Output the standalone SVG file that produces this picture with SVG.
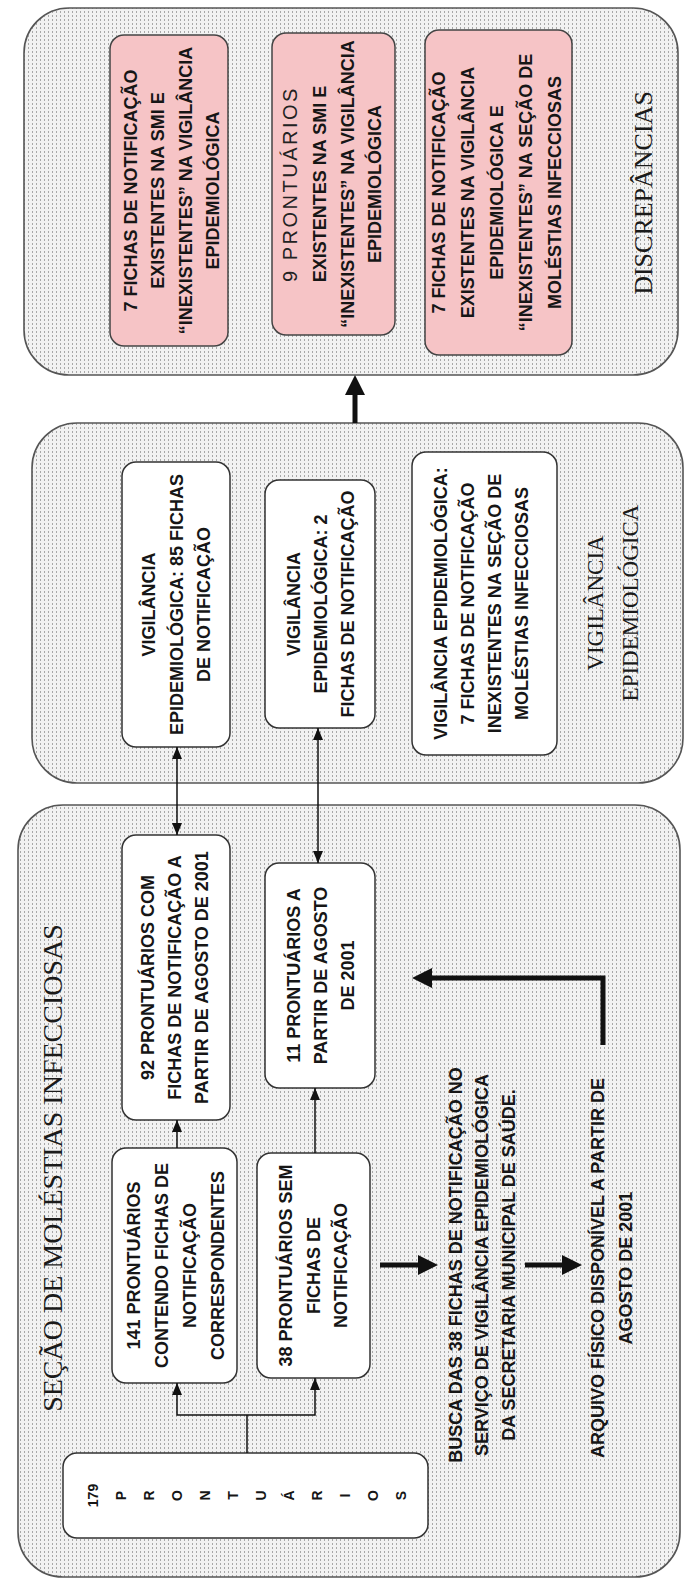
<svg xmlns="http://www.w3.org/2000/svg" width="691" height="1581" viewBox="0 0 691 1581">
<defs>
<pattern id="dots" width="4" height="4" patternUnits="userSpaceOnUse">
<rect width="4" height="4" fill="#f2f2f2"/>
<rect x="0" y="0" width="2" height="1" fill="#a8a8a8"/>
</pattern>
<marker id="ah" viewBox="0 0 12 10" refX="12" refY="5" markerWidth="12" markerHeight="10" markerUnits="userSpaceOnUse" orient="auto-start-reverse">
<path d="M0,0 L12,5 L0,10 z" fill="#111"/>
</marker>
<marker id="ahb" viewBox="0 0 20 20" refX="6" refY="10" markerWidth="20" markerHeight="20" markerUnits="userSpaceOnUse" orient="auto">
<path d="M0,0 L20,10 L0,20 z" fill="#111"/>
</marker>
<style>
.c{fill:url(#dots);stroke:#555;stroke-width:1.6}
.b{fill:#fff;stroke:#333;stroke-width:1.5}
.r{fill:#f6c4c6;stroke:#444;stroke-width:1.5}
.t{font-family:"Liberation Sans",Arial,sans-serif;font-weight:bold;font-size:18px;fill:#161616;text-anchor:middle}
.t14{font-size:14px}
.lt{font-family:"Liberation Sans",Arial,sans-serif;font-weight:normal;font-size:20px;letter-spacing:2.5px;fill:#222;text-anchor:middle}
.lbl{font-family:"Liberation Serif","Times New Roman",serif;fill:#1a1a1a;text-anchor:middle}
.ln{fill:none;stroke:#111;stroke-width:1.5}
.th{fill:none;stroke:#111;stroke-width:5}
</style>
</defs>
<rect width="691" height="1581" fill="#fff"/>
<g transform="translate(0 1581) rotate(-90)">
<g id="sec-container">
<rect class="c" x="4" y="18" width="772" height="662" rx="45"/>
<text class="lbl" x="413" y="62" font-size="28">SEÇÃO DE MOLÉSTIAS INFECCIOSAS</text>
</g>
<g id="vig-container">
<rect class="c" x="798" y="32" width="360" height="651" rx="45"/>
<text class="lbl" x="978" y="603" font-size="23">VIGILÂNCIA</text>
<text class="lbl" x="978" y="638" font-size="23">EPIDEMIOLÓGICA</text>
</g>
<g id="disc-container">
<rect class="c" x="1206" y="24" width="367" height="654" rx="45"/>
<text class="lbl" x="1388" y="652" font-size="26">DISCREPÂNCIAS</text>
</g>

<g id="n179">
<rect class="b" x="43" y="63" width="85" height="365" rx="14"/>
<text class="t t14" x="85.5" y="98">179</text>
<text class="t t14" x="85.5" y="126">P</text>
<text class="t t14" x="85.5" y="154">R</text>
<text class="t t14" x="85.5" y="182">O</text>
<text class="t t14" x="85.5" y="210">N</text>
<text class="t t14" x="85.5" y="238">T</text>
<text class="t t14" x="85.5" y="266">U</text>
<text class="t t14" x="85.5" y="294">Á</text>
<text class="t t14" x="85.5" y="322">R</text>
<text class="t t14" x="85.5" y="350">I</text>
<text class="t t14" x="85.5" y="378">O</text>
<text class="t t14" x="85.5" y="406">S</text>
</g>
<g id="n141">
<rect class="b" x="198" y="112" width="235" height="125" rx="14"/>
<text class="t" x="315.5" y="140">141 PRONTUÁRIOS</text>
<text class="t" x="315.5" y="168">CONTENDO FICHAS DE</text>
<text class="t" x="315.5" y="196">NOTIFICAÇÃO</text>
<text class="t" x="315.5" y="224">CORRESPONDENTES</text>
</g>
<g id="n38">
<rect class="b" x="203" y="257" width="225" height="113" rx="14"/>
<text class="t" x="315.5" y="292">38 PRONTUÁRIOS SEM</text>
<text class="t" x="315.5" y="320">FICHAS DE</text>
<text class="t" x="315.5" y="347">NOTIFICAÇÃO</text>
</g>
<g id="n92">
<rect class="b" x="461" y="122" width="285" height="108" rx="14"/>
<text class="t" x="603.5" y="154">92 PRONTUÁRIOS COM</text>
<text class="t" x="603.5" y="181">FICHAS DE NOTIFICAÇÃO A</text>
<text class="t" x="603.5" y="208">PARTIR DE AGOSTO DE 2001</text>
</g>
<g id="n11">
<rect class="b" x="493" y="265" width="225" height="110" rx="14"/>
<text class="t" x="605.5" y="300">11 PRONTUÁRIOS A</text>
<text class="t" x="605.5" y="327">PARTIR DE AGOSTO</text>
<text class="t" x="605.5" y="354">DE 2001</text>
</g>
<g id="busca">
<text class="t" x="316" y="462">BUSCA DAS 38 FICHAS DE NOTIFICAÇÃO NO</text>
<text class="t" x="316" y="488">SERVIÇO DE VIGILÂNCIA EPIDEMIOLÓGICA</text>
<text class="t" x="316" y="515">DA SECRETARIA MUNICIPAL DE SAÚDE.</text>
</g>
<g id="arquivo">
<text class="t" x="313" y="604">ARQUIVO FÍSICO DISPONÍVEL A PARTIR DE</text>
<text class="t" x="313" y="632">AGOSTO DE 2001</text>
</g>

<g id="vig1">
<rect class="b" x="834" y="122" width="285" height="108" rx="14"/>
<text class="t" x="976.5" y="155">VIGILÂNCIA</text>
<text class="t" x="976.5" y="183">EPIDEMIOLÓGICA: 85 FICHAS</text>
<text class="t" x="976.5" y="210">DE NOTIFICAÇÃO</text>
</g>
<g id="vig2">
<rect class="b" x="853" y="265" width="248" height="110" rx="14"/>
<text class="t" x="977" y="300">VIGILÂNCIA</text>
<text class="t" x="977" y="327">EPIDEMIOLÓGICA: 2</text>
<text class="t" x="977" y="354">FICHAS DE NOTIFICAÇÃO</text>
</g>
<g id="vig3">
<rect class="b" x="826" y="412" width="303" height="145" rx="14"/>
<text class="t" x="977.5" y="447">VIGILÂNCIA EPIDEMIOLÓGICA:</text>
<text class="t" x="977.5" y="474">7 FICHAS DE NOTIFICAÇÃO</text>
<text class="t" x="977.5" y="501">INEXISTENTES NA SEÇÃO DE</text>
<text class="t" x="977.5" y="528">MOLÉSTIAS INFECCIOSAS</text>
</g>

<g id="disc1">
<rect class="r" x="1235" y="110" width="311" height="118" rx="14"/>
<text class="t" x="1390.5" y="137">7 FICHAS DE NOTIFICAÇÃO</text>
<text class="t" x="1390.5" y="164">EXISTENTES NA SMI E</text>
<text class="t" x="1390.5" y="192">“INEXISTENTES” NA VIGILÂNCIA</text>
<text class="t" x="1390.5" y="219">EPIDEMIOLÓGICA</text>
</g>
<g id="disc2">
<rect class="r" x="1246" y="272" width="302" height="123" rx="14"/>
<text class="lt" x="1397" y="297">9 PRONTUÁRIOS</text>
<text class="t" x="1397" y="326">EXISTENTES NA SMI E</text>
<text class="t" x="1397" y="354">“INEXISTENTES” NA VIGILÂNCIA</text>
<text class="t" x="1397" y="381">EPIDEMIOLÓGICA</text>
</g>
<g id="disc3">
<rect class="r" x="1226" y="425" width="325" height="147" rx="14"/>
<text class="t" x="1388.5" y="445">7 FICHAS DE NOTIFICAÇÃO</text>
<text class="t" x="1388.5" y="474">EXISTENTES NA VIGILÂNCIA</text>
<text class="t" x="1388.5" y="503">EPIDEMIOLÓGICA E</text>
<text class="t" x="1388.5" y="532">“INEXISTENTES” NA SEÇÃO DE</text>
<text class="t" x="1388.5" y="561">MOLÉSTIAS INFECCIOSAS</text>
</g>

<g id="connectors">
<path class="ln" d="M128 247 H166"/>
<path class="ln" d="M166 247 V177 H198" marker-end="url(#ah)"/>
<path class="ln" d="M166 247 V315 H203" marker-end="url(#ah)"/>
<path class="ln" d="M433 177 H461" marker-end="url(#ah)"/>
<path class="ln" d="M428 315 H493" marker-end="url(#ah)"/>
<path class="ln" d="M746 177 H834" marker-start="url(#ah)" marker-end="url(#ah)"/>
<path class="ln" d="M718 318 H853" marker-start="url(#ah)" marker-end="url(#ah)"/>
<path class="th" d="M1158 355 H1192" marker-end="url(#ahb)"/>
<path class="th" d="M316 380 V424" marker-end="url(#ahb)"/>
<path class="th" d="M316 525 V568" marker-end="url(#ahb)"/>
<path class="th" d="M536 603 H603 V426" marker-end="url(#ahb)"/>
</g>
</g>
</svg>
